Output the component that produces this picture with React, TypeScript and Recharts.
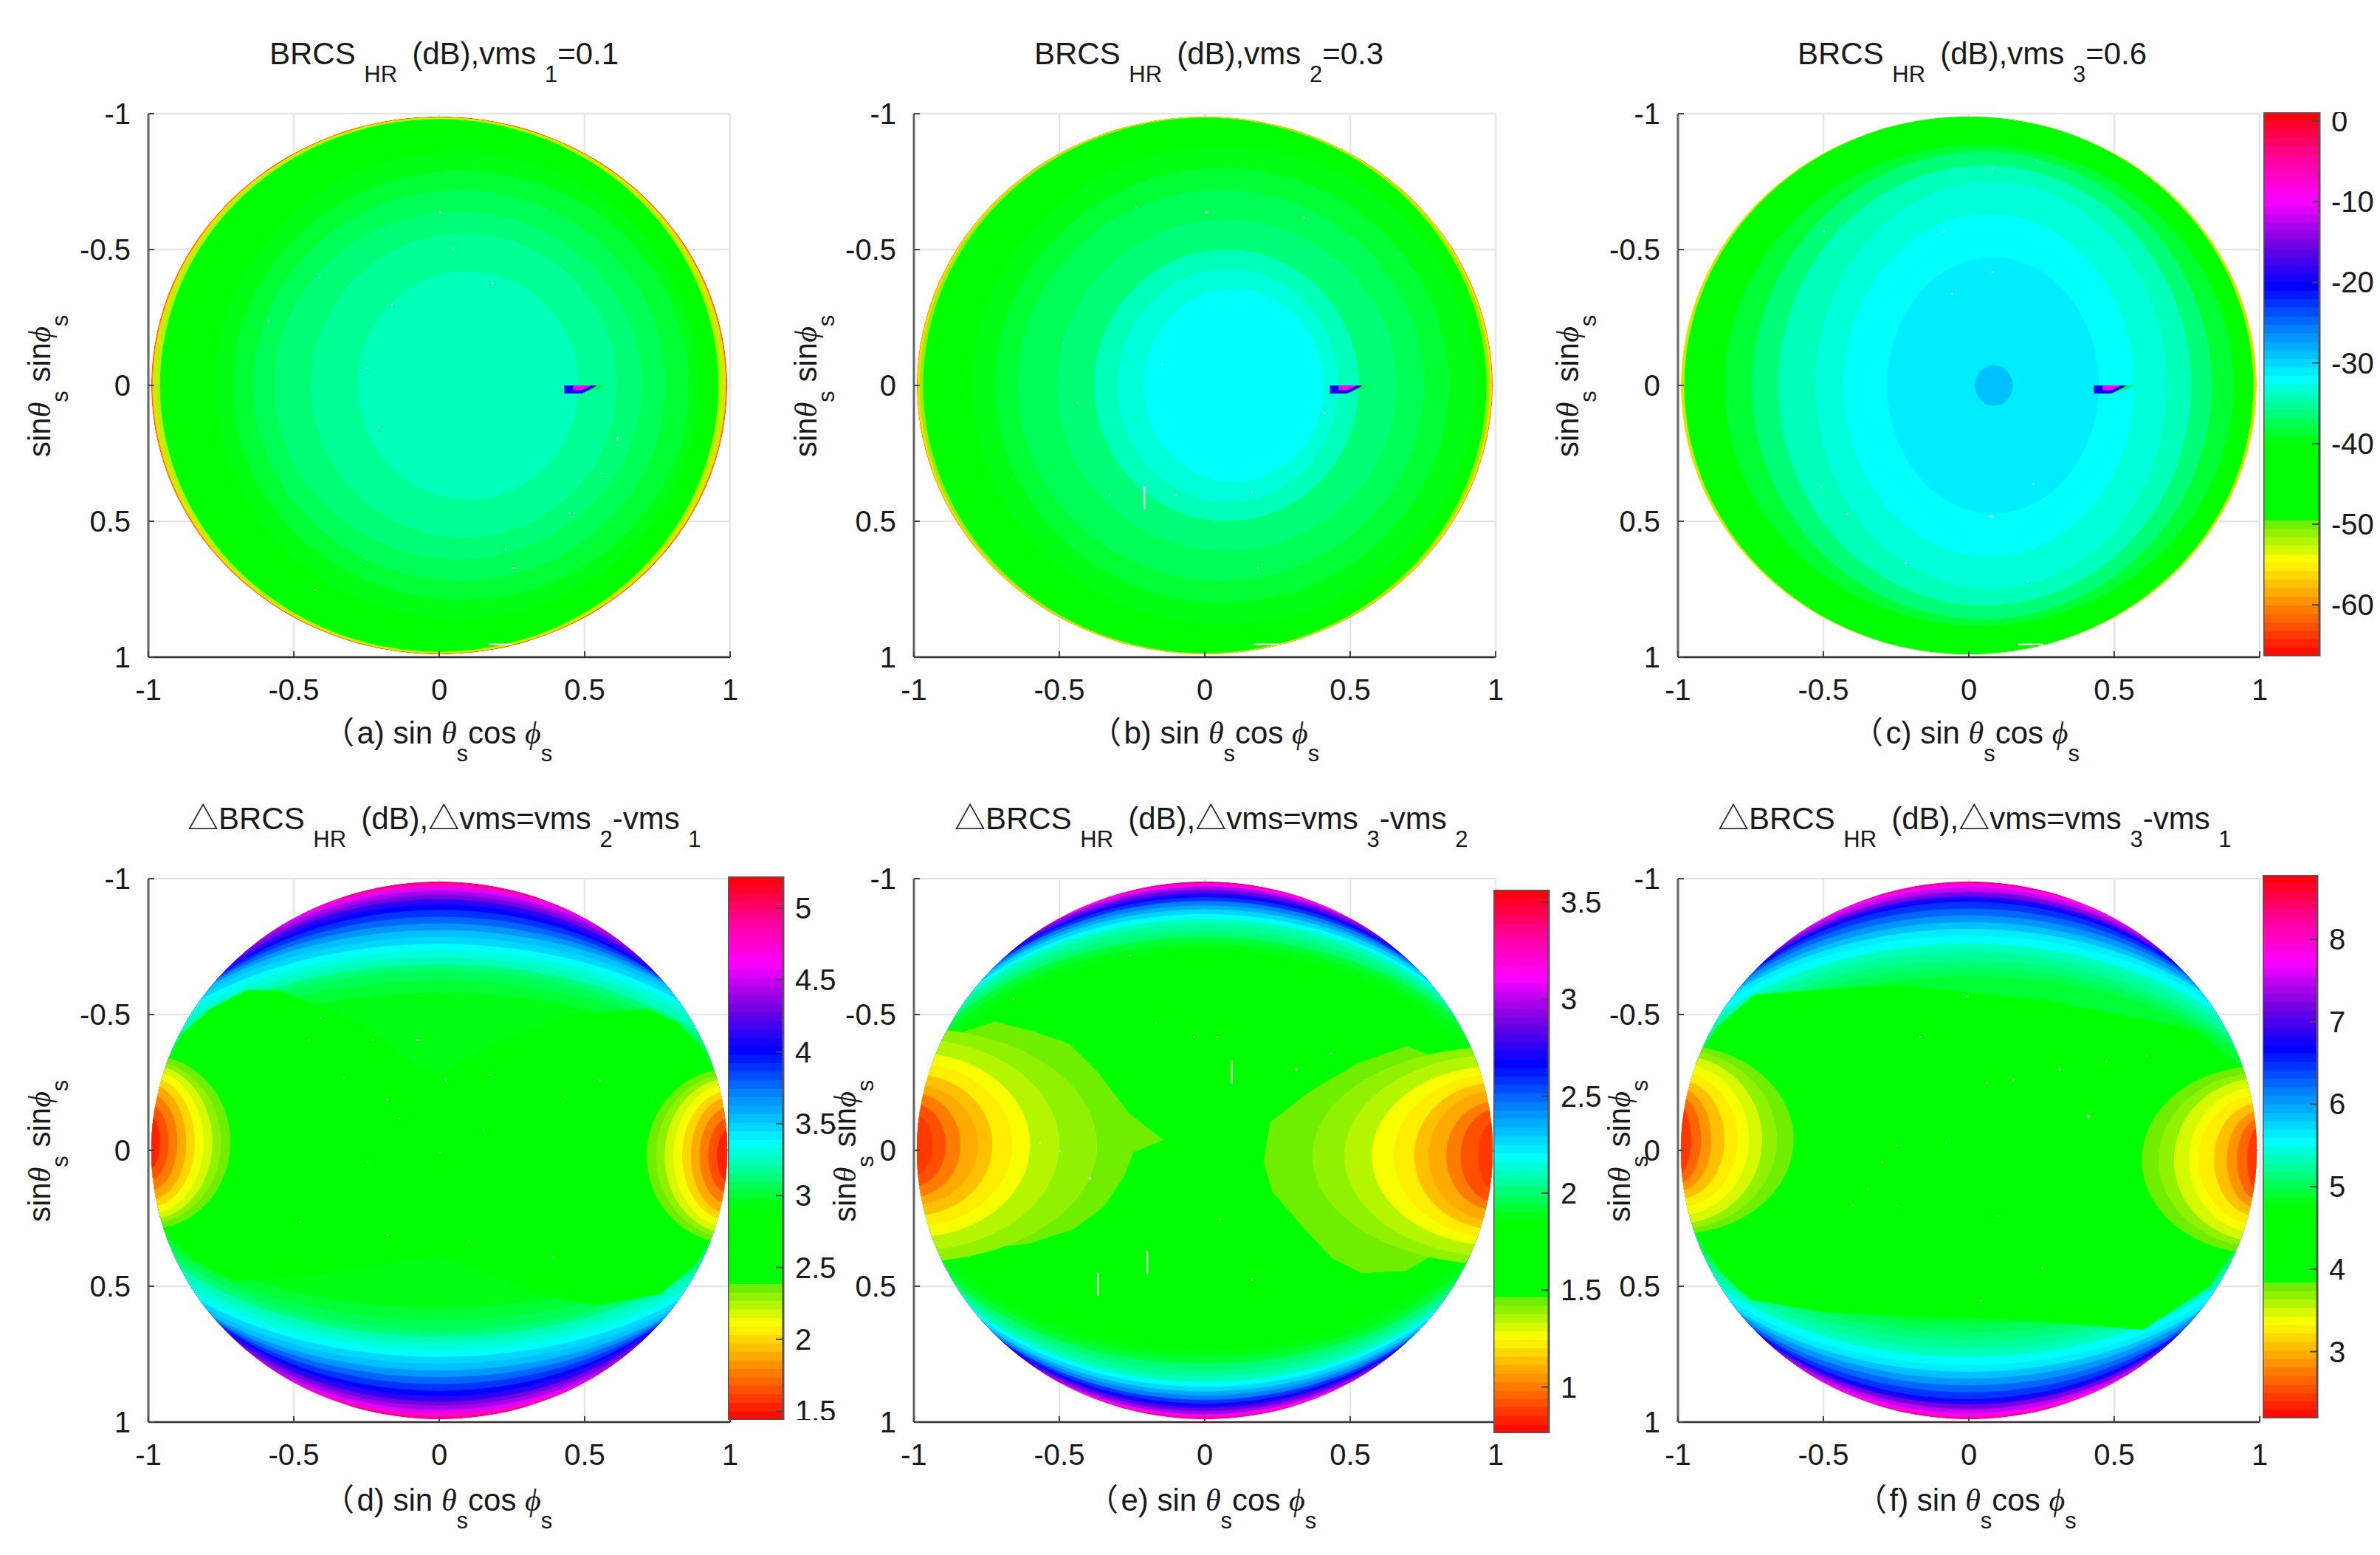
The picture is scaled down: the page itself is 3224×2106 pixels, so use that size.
import React from "react";
import {
  ScatterChart,
  Scatter,
  XAxis,
  YAxis,
  CartesianGrid,
  ReferenceArea
} from "recharts";

// ---- contour data: [x, y, rx, ry, level] painted back to front
type Ring = number[];
type Poly = { level: number; pts: number[][] };

const axisTicks = [-1, -0.5, 0, 0.5, 1];

const ringsA: Ring[] = [
  [0, 0, 0.99, 0.99, -64],
  [0, 0, 0.988, 0.988, -60],
  [0, 0, 0.985, 0.987, -56],
  [0, 0, 0.978, 0.985, -52],
  [0, 0, 0.96, 0.98, -45],
  [0.06, 0, 0.83, 0.86, -39.6],
  [0.075, 0, 0.785, 0.79, -38.4],
  [0.07, 0, 0.71, 0.72, -37.2],
  [0.065, 0, 0.633, 0.64, -36.2],
  [0.085, 0, 0.525, 0.56, -35.2],
  [0.1, 0, 0.38, 0.42, -34]
];
const ringsB: Ring[] = [
  [0, 0, 0.99, 0.99, -62],
  [0, 0, 0.988, 0.989, -56],
  [0, 0, 0.98, 0.987, -51],
  [0, 0, 0.968, 0.985, -45],
  [0.065, 0, 0.865, 0.88, -39.6],
  [0.06, 0, 0.78, 0.8, -38.5],
  [0.055, 0, 0.7, 0.72, -37.2],
  [0.075, 0, 0.585, 0.61, -36],
  [0.075, 0, 0.455, 0.5, -34.7],
  [0.08, 0, 0.38, 0.43, -33.3],
  [0.1, 0, 0.31, 0.355, -32]
];
const ringsC: Ring[] = [
  [0, 0, 0.99, 0.99, -56],
  [0, 0, 0.985, 0.99, -52],
  [0, 0, 0.978, 0.99, -45],
  [0.035, 0, 0.875, 0.885, -38.2],
  [0.045, 0, 0.79, 0.86, -36.3],
  [0.055, 0, 0.71, 0.81, -34.4],
  [0.077, 0, 0.605, 0.75, -33],
  [0.07, 0, 0.5, 0.63, -32],
  [0.083, 0, 0.364, 0.472, -30.6],
  [0.086, 0, 0.065, 0.075, -29]
];

// shared glint right of centre in the three upper panels
const wedgeTop: Poly[] = [
  { level: -44, pts: [[0.49, 0.03], [0.575, 0], [0.53, 0.005]] },
  { level: -20, pts: [[0.43, 0], [0.545, 0], [0.49, 0.03], [0.43, 0.03]] },
  { level: -10, pts: [[0.46, 0], [0.525, 0], [0.49, 0.018], [0.46, 0.018]] }
];

const bandsD: Ring[] = [
  [0, 0, 0.99, 0.99, 4.95],
  [0, 0, 1.05, 0.98, 4.75],
  [0, 0, 1.06, 0.968, 4.55],
  [0, 0, 1.07, 0.955, 4.42],
  [0, 0, 1.07, 0.94, 4.28],
  [0, 0, 1.07, 0.925, 4.14],
  [0, 0, 1.07, 0.905, 4.0],
  [0, 0, 1.1, 0.885, 3.9],
  [0, 0, 1.13, 0.86, 3.78],
  [0, 0, 1.16, 0.835, 3.66],
  [0, 0, 1.19, 0.81, 3.55],
  [0, 0, 1.2, 0.785, 3.45],
  [0, 0, 1.2, 0.76, 3.36],
  [0, 0, 1.2, 0.735, 3.29],
  [0, 0, 1.18, 0.71, 3.22],
  [0, 0, 1.15, 0.685, 3.15],
  [0, 0, 1.13, 0.66, 3.09],
  [0, 0, 1.13, 0.625, 3.03],
  [0, 0, 1.13, 0.58, 2.97],
  [0, 0, 1.13, 0.55, 2.93]
];
const greenD: Poly[] = [
  {
    level: 2.8,
    pts: [
      [-1.1, -0.22], [-0.95, -0.3], [-0.883, -0.43], [-0.79, -0.52], [-0.665, -0.59], [-0.55, -0.59],
      [-0.264, -0.465], [-0.086, -0.32], [0, -0.283], [0.18, -0.39], [0.45, -0.5], [0.717, -0.52],
      [0.82, -0.47], [0.9, -0.38], [0.95, -0.28], [1.1, -0.2],
      [1.1, 0.2], [0.95, 0.3], [0.88, 0.42], [0.76, 0.53], [0.54, 0.57], [0.36, 0.534], [0.18, 0.46], [0, 0.392],
      [-0.086, 0.397], [-0.264, 0.434], [-0.44, 0.46], [-0.71, 0.48], [-0.85, 0.4], [-0.94, 0.3], [-1.1, 0.2]
    ]
  }
];
const earsD: Ring[] = [
  [-1, -0.03, 0.282, 0.32, 2.37],
  [-1, -0.03, 0.25, 0.3, 2.29],
  [-1, -0.03, 0.22, 0.285, 2.2],
  [-1, -0.03, 0.19, 0.265, 2.1],
  [-1, -0.03, 0.16, 0.24, 2.01],
  [-1, -0.03, 0.13, 0.215, 1.89],
  [-1, -0.03, 0.1, 0.18, 1.76],
  [-1, -0.03, 0.07, 0.14, 1.63],
  [-1, -0.03, 0.04, 0.1, 1.52],
  [1, 0.02, 0.287, 0.32, 2.37],
  [1, 0.02, 0.255, 0.3, 2.29],
  [1, 0.02, 0.225, 0.285, 2.2],
  [1, 0.02, 0.195, 0.265, 2.1],
  [1, 0.02, 0.165, 0.24, 2.01],
  [1, 0.02, 0.135, 0.215, 1.89],
  [1, 0.02, 0.105, 0.18, 1.76],
  [1, 0.02, 0.075, 0.14, 1.63],
  [1, 0.02, 0.045, 0.1, 1.52]
];

const bandsE: Ring[] = [
  [0, 0, 0.99, 0.99, 3.35],
  [0, 0, 1.03, 0.983, 3.15],
  [0, 0, 1.04, 0.972, 2.98],
  [0, 0, 1.05, 0.96, 2.85],
  [0, 0, 1.06, 0.947, 2.7],
  [0, 0, 1.07, 0.932, 2.58],
  [0, 0, 1.08, 0.918, 2.47],
  [0, 0, 1.09, 0.902, 2.36],
  [0, 0, 1.1, 0.887, 2.26],
  [0, 0, 1.1, 0.87, 2.18],
  [0, 0, 1.1, 0.852, 2.11],
  [0, 0, 1.1, 0.832, 2.05],
  [0, 0, 1.1, 0.81, 1.99],
  [0, 0, 1.1, 0.785, 1.94],
  [0, 0, 1.08, 0.76, 1.9],
  [0, 0, 1.05, 0.735, 1.8]
];
const lobesE: Poly[] = [
  {
    level: 1.45,
    pts: [
      [-1.1, -0.1], [-0.969, -0.229], [-0.85, -0.428], [-0.722, -0.474], [-0.586, -0.437], [-0.466, -0.392],
      [-0.364, -0.283], [-0.262, -0.138], [-0.142, -0.038], [-0.245, 0.007], [-0.279, 0.098], [-0.347, 0.207],
      [-0.449, 0.289], [-0.603, 0.343], [-0.756, 0.361], [-0.876, 0.316], [-0.961, 0.225], [-1.1, 0.1]
    ]
  },
  {
    level: 1.45,
    pts: [
      [1.1, -0.1], [0.932, -0.229], [0.83, -0.328], [0.693, -0.383], [0.523, -0.319], [0.352, -0.21],
      [0.224, -0.102], [0.202, 0.044], [0.233, 0.152], [0.335, 0.279], [0.437, 0.397], [0.54, 0.452],
      [0.693, 0.443], [0.864, 0.334], [0.983, 0.152], [1.1, 0.1]
    ]
  }
];
const earsE: Ring[] = [
  [-1, -0.02, 0.63, 0.43, 1.39],
  [-1, -0.02, 0.5, 0.39, 1.34],
  [-1, -0.02, 0.4, 0.34, 1.28],
  [-1, -0.02, 0.338, 0.3, 1.22],
  [-1, -0.02, 0.27, 0.26, 1.15],
  [-1, -0.02, 0.22, 0.22, 1.08],
  [-1, -0.02, 0.16, 0.19, 1.01],
  [-1, -0.02, 0.11, 0.15, 0.93],
  [-1, -0.02, 0.065, 0.11, 0.85],
  [1, 0.02, 0.63, 0.4, 1.39],
  [1, 0.02, 0.52, 0.37, 1.34],
  [1, 0.02, 0.426, 0.33, 1.28],
  [1, 0.02, 0.35, 0.3, 1.22],
  [1, 0.02, 0.28, 0.27, 1.15],
  [1, 0.02, 0.23, 0.24, 1.08],
  [1, 0.02, 0.17, 0.2, 1.01],
  [1, 0.02, 0.12, 0.17, 0.93],
  [1, 0.02, 0.06, 0.13, 0.85]
];

const bandsF: Ring[] = [
  [0, 0, 0.99, 0.99, 8.3],
  [0, 0, 1.03, 0.982, 7.8],
  [0, 0, 1.04, 0.968, 7.45],
  [0, 0, 1.05, 0.952, 7.15],
  [0, 0, 1.06, 0.935, 6.8],
  [0, 0, 1.07, 0.915, 6.5],
  [0, 0, 1.1, 0.89, 6.25],
  [0, 0, 1.12, 0.865, 6.0],
  [0, 0, 1.13, 0.84, 5.8],
  [0, 0, 1.15, 0.815, 5.62],
  [0, 0, 1.15, 0.79, 5.5],
  [0, 0, 1.14, 0.76, 5.35],
  [0, 0, 1.13, 0.73, 5.22],
  [0, 0, 1.12, 0.7, 5.1],
  [0, 0, 1.12, 0.67, 4.98],
  [0, 0, 1.12, 0.64, 4.88]
];
const greenF: Poly[] = [
  {
    level: 4.6,
    pts: [
      [-1.1, -0.2], [-0.95, -0.3], [-0.87, -0.45], [-0.737, -0.574], [-0.268, -0.61], [0.252, -0.555], [0.774, -0.446],
      [0.913, -0.33], [1.1, -0.2],
      [1.1, 0.2], [0.95, 0.3], [0.83, 0.5], [0.6, 0.66], [0.166, 0.624], [-0.246, 0.608], [-0.5, 0.595], [-0.754, 0.549],
      [-0.855, 0.448], [-0.94, 0.3], [-1.1, 0.2]
    ]
  }
];
const earsF: Ring[] = [
  [-1, -0.04, 0.398, 0.347, 3.77],
  [-1, -0.04, 0.34, 0.33, 3.64],
  [-1, -0.04, 0.29, 0.31, 3.51],
  [-1, -0.04, 0.245, 0.28, 3.38],
  [-1, -0.04, 0.205, 0.25, 3.24],
  [-1, -0.04, 0.16, 0.22, 3.05],
  [-1, -0.04, 0.115, 0.19, 2.85],
  [-1, -0.04, 0.08, 0.16, 2.65],
  [-1, -0.04, 0.045, 0.13, 2.45],
  [1, 0.035, 0.405, 0.345, 3.77],
  [1, 0.035, 0.347, 0.32, 3.64],
  [1, 0.035, 0.295, 0.3, 3.51],
  [1, 0.035, 0.243, 0.27, 3.38],
  [1, 0.035, 0.21, 0.24, 3.24],
  [1, 0.035, 0.157, 0.21, 3.05],
  [1, 0.035, 0.113, 0.18, 2.85],
  [1, 0.035, 0.078, 0.15, 2.65],
  [1, 0.035, 0.043, 0.12, 2.45]
];

// missing cells: [x, y, w, h]
const holesA = [
  [0, -0.64, 0.008, 0.006], [0.045, -0.507, 0.005, 0.005], [0.18, -0.38, 0.005, 0.005], [-0.415, -0.4, 0.005, 0.005],
  [-0.165, -0.3, 0.005, 0.005], [-0.59, -0.24, 0.005, 0.005], [-0.25, -0.066, 0.005, 0.005], [-0.21, 0.15, 0.005, 0.005],
  [0.61, 0.19, 0.005, 0.012], [0.555, 0.32, 0.005, 0.005], [0.445, 0.467, 0.005, 0.005], [0.226, 0.6, 0.005, 0.005],
  [0.25, 0.67, 0.008, 0.005], [-0.25, 0.64, 0.005, 0.005], [-0.43, 0.75, 0.005, 0.005], [0.17, 0.95, 0.08, 0.006]
];
const holesB = [
  [-0.21, 0.37, 0.005, 0.085], [0, -0.64, 0.012, 0.005], [-0.24, -0.66, 0.005, 0.005], [0.34, -0.62, 0.005, 0.005],
  [-0.49, -0.16, 0.005, 0.005], [-0.15, -0.08, 0.005, 0.005], [-0.44, 0.06, 0.005, 0.005], [0.41, 0.1, 0.005, 0.005],
  [-0.1, 0.4, 0.005, 0.005], [0.16, 0.39, 0.005, 0.005], [-0.33, 0.4, 0.005, 0.005], [0.18, 0.67, 0.005, 0.005],
  [0.17, 0.95, 0.085, 0.006]
];
const holesC = [
  [0.08, -0.8, 0.005, 0.005], [0.23, -0.83, 0.005, 0.005], [-0.09, -0.57, 0.005, 0.005], [0.08, -0.42, 0.005, 0.005],
  [-0.06, -0.34, 0.005, 0.005], [-0.5, -0.57, 0.005, 0.005], [0.22, 0.36, 0.005, 0.005], [-0.51, 0.37, 0.005, 0.005],
  [-0.42, 0.47, 0.005, 0.005], [0.07, 0.48, 0.012, 0.005], [-0.22, 0.65, 0.005, 0.005], [0.2, 0.72, 0.005, 0.005],
  [0.17, 0.95, 0.085, 0.006]
];
const holesD = [
  [-0.41, -0.49, 0.005, 0.005], [-0.45, -0.41, 0.005, 0.005], [-0.23, -0.41, 0.005, 0.005], [-0.08, -0.41, 0.01, 0.005],
  [-0.33, -0.27, 0.005, 0.005], [0.02, -0.26, 0.005, 0.005], [0.55, -0.26, 0.005, 0.005], [0.17, -0.28, 0.005, 0.005],
  [-0.18, -0.19, 0.005, 0.005], [0.43, -0.2, 0.005, 0.005], [-0.14, -0.12, 0.005, 0.005], [0.15, -0.08, 0.005, 0.005],
  [-0.25, 0.04, 0.005, 0.005], [0, 0.005, 0.005, 0.005], [-0.48, 0.26, 0.005, 0.005], [-0.18, 0.31, 0.005, 0.005],
  [0.1, 0.33, 0.005, 0.005], [0.39, 0.39, 0.005, 0.005]
];
const holesE = [
  [0.09, -0.33, 0.005, 0.085], [-0.2, 0.37, 0.005, 0.085], [-0.37, 0.45, 0.005, 0.085], [-0.26, -0.72, 0.005, 0.005],
  [-0.66, -0.56, 0.005, 0.005], [-0.17, -0.47, 0.005, 0.005], [-0.04, -0.42, 0.005, 0.005], [0.04, -0.42, 0.005, 0.005],
  [0.31, -0.3, 0.008, 0.005], [0.43, -0.36, 0.005, 0.005], [-0.57, -0.03, 0.005, 0.005], [-0.5, 0, 0.005, 0.005],
  [-0.4, 0.1, 0.01, 0.005], [0.05, 0.25, 0.005, 0.005], [0.16, 0.47, 0.005, 0.01]
];
const holesF = [
  [-0.01, -0.57, 0.008, 0.005], [-0.17, -0.42, 0.005, 0.005], [0.47, -0.33, 0.005, 0.005], [0.61, -0.35, 0.005, 0.005],
  [0.06, -0.25, 0.005, 0.005], [0.15, -0.26, 0.005, 0.005], [0.31, -0.3, 0.005, 0.005], [0.41, -0.13, 0.005, 0.012],
  [-0.25, -0.02, 0.005, 0.005], [-0.08, -0.03, 0.005, 0.005], [-0.3, 0.04, 0.005, 0.005], [-0.35, 0.14, 0.005, 0.005],
  [-0.4, 0.2, 0.005, 0.005], [-0.25, 0.2, 0.005, 0.005], [0.1, 0.24, 0.005, 0.005], [0.25, 0.43, 0.005, 0.005], [0.04, 0.55, 0.005, 0.005]
];

// ---- colour bars
const barTicksTop = [0, -10, -20, -30, -40, -50, -60];
const barTicksD = [1.5, 2, 2.5, 3, 3.5, 4, 4.5, 5];
const barTicksE = [1, 1.5, 2, 2.5, 3, 3.5];
const barTicksF = [3, 4, 5, 6, 7, 8];

const rangeTop: [number, number] = [-66.4, 1.1];
const rangeD: [number, number] = [1.44, 5.22];
const rangeE: [number, number] = [0.762, 3.565];
const rangeF: [number, number] = [2.19, 8.78];

// colormap stops as seen on the bars: [position, r, g, b]
const colorStops = [
  [0, 255, 0, 0],
  [0.09, 255, 130, 0],
  [0.176, 255, 255, 0],
  [0.252, 90, 235, 0],
  [0.253, 0, 255, 0],
  [0.39, 0, 255, 0],
  [0.51, 0, 255, 255],
  [0.6, 0, 130, 255],
  [0.68, 0, 0, 255],
  [0.76, 120, 0, 225],
  [0.84, 255, 0, 255],
  [0.92, 255, 0, 150],
  [1, 255, 0, 0]
];
const LEVELS = 64;

function colorOf(value: number, range: [number, number]) {
  const raw = (value - range[0]) / (range[1] - range[0]);
  const t = (Math.min(LEVELS - 1, Math.max(0, Math.floor(raw * LEVELS))) + 0.5) / LEVELS;
  let i = 0;
  while (i < colorStops.length - 2 && colorStops[i + 1][0] < t) i++;
  const a = colorStops[i];
  const b = colorStops[i + 1];
  const f = Math.min(1, (t - a[0]) / (b[0] - a[0]));
  const mix = (k: number) => Math.round(a[k] + (b[k] - a[k]) * f);
  return `rgb(${mix(1)},${mix(2)},${mix(3)})`;
}

// ---- text
type Run = [string, ("sub" | "it")?];
const TEXT_FONT = "'Liberation Sans', 'Noto Sans CJK SC', Arial, sans-serif";

const sinLabel: Run[] = [["sin"], ["θ", "it"], ["s", "sub"], [" sin"], ["ϕ", "it"], ["s", "sub"]];
const capLabel = (c: string): Run[] => [[`（\u200a${c}) sin `], ["θ", "it"], ["s", "sub"], ["cos "], ["ϕ", "it"], ["s", "sub"]];
const titleTop = (n: string, v: string): Run[] => [["BRCS "], ["HR", "sub"], [" \u2009(dB),vms "], [n, "sub"], [`=${v}`]];
const titleDelta = (a: string, b: string): Run[] => [["△BRCS "], ["HR", "sub"], [" \u2009(dB),△vms=vms "], [a, "sub"], ["-vms "], [b, "sub"]];

function Rich({ x, y, runs, rotate }: { x: number; y: number; runs: Run[]; rotate?: boolean }) {
  let base = 0;
  return (
    <text
      x={x}
      y={y}
      transform={rotate ? `rotate(-90 ${x} ${y})` : undefined}
      fontFamily={TEXT_FONT}
      fontSize={42}
      fill="#1a1a1a"
      style={{ whiteSpace: "pre" }}
    >
      {runs.map(([t, kind], i) => {
        const target = kind === "sub" ? 24 : 0;
        const dy = target - base;
        base = target;
        if (kind === "sub") return <tspan key={i} dy={dy} fontSize={31}>{t}</tspan>;
        if (kind === "it") return <tspan key={i} dy={dy} fontFamily="'Liberation Serif', serif" fontStyle="italic">{t}</tspan>;
        return <tspan key={i} dy={dy}>{t}</tspan>;
      })}
    </text>
  );
}

// ---- layout
const PLOT_W = 788;
const PLOT_H = 736;
const M_LEFT = 200;
const M_TOP = 154;
const M_RIGHT = 30;
const M_BOTTOM = 180;
const DISK = 0.99;

function contourShape(id: string, range: [number, number]) {
  const ux = PLOT_W / 2;
  const uy = PLOT_H / 2;
  return (props: any) => {
    const { cx, cy, payload } = props;
    const fill = colorOf(payload.level, range);
    if (payload.pts) {
      const d = payload.pts
        .map((p: number[]) => `${cx + p[0] * ux},${cy + p[1] * uy}`)
        .join(" ");
      return <polygon points={d} fill={fill} clipPath={`url(#${id})`} />;
    }
    return <ellipse cx={cx} cy={cy} rx={payload.rx * ux} ry={payload.ry * uy} fill={fill} clipPath={`url(#${id})`} />;
  };
}

const holeShape = (props: any) => {
  const { cx, cy, payload } = props;
  return <rect x={cx} y={cy} width={Math.max(2, (payload.w * PLOT_W) / 2)} height={Math.max(2, (payload.h * PLOT_H) / 2)} fill="#fff" />;
};

const XTick = ({ x, payload }: any) => (
  <g>
    <line x1={x} x2={x} y1={M_TOP + PLOT_H} y2={M_TOP + PLOT_H - 8} stroke="#444" strokeWidth={2} />
    <text x={x} y={M_TOP + PLOT_H + 58} textAnchor="middle" fontFamily={TEXT_FONT} fontSize={40} fill="#1a1a1a">{payload.value}</text>
  </g>
);

const YTick = ({ y, payload }: any) => (
  <g>
    <line x1={M_LEFT} x2={M_LEFT + 8} y1={y} y2={y} stroke="#444" strokeWidth={2} />
    <text x={M_LEFT - 24} y={y + 14} textAnchor="end" fontFamily={TEXT_FONT} fontSize={40} fill="#1a1a1a">{payload.value}</text>
  </g>
);

type PanelProps = {
  px: number;
  py: number;
  id: string;
  range: [number, number];
  rings: Ring[];
  overlay?: Poly[];
  ears?: Ring[];
  holes: number[][];
  wedge?: boolean;
  title: Run[];
  titleX: number;
  titleY: number;
  caption: Run[];
  captionX: number;
  captionY: number;
  labelX: number;
  labelY: number;
};

const toRing = (r: Ring) => ({ x: r[0], y: r[1], rx: r[2], ry: r[3], level: r[4] });
// polygons carry their own vertices, anchored at the axes' origin
const toPoly = (p: Poly) => ({ x: 0, y: 0, level: p.level, pts: p.pts });

function Panel(p: PanelProps) {
  const ox = p.px - M_LEFT;
  const oy = p.py - M_TOP;
  const rows: any[] = [
    ...p.rings.map(toRing),
    ...(p.overlay ?? []).map(toPoly),
    ...(p.ears ?? []).map(toRing),
    ...(p.wedge ? wedgeTop.map(toPoly) : [])
  ];
  const holes = p.holes.map((h) => ({ x: h[0], y: h[1], w: h[2], h: h[3] }));
  return (
    <div style={{ position: "absolute", left: ox, top: oy }}>
      <ScatterChart
        width={M_LEFT + PLOT_W + M_RIGHT}
        height={M_TOP + PLOT_H + M_BOTTOM}
        margin={{ top: M_TOP, right: M_RIGHT, left: 0, bottom: 0 }}
      >
        <defs>
          <clipPath id={p.id}>
            <ellipse cx={M_LEFT + PLOT_W / 2} cy={M_TOP + PLOT_H / 2} rx={(DISK * PLOT_W) / 2} ry={(DISK * PLOT_H) / 2} />
          </clipPath>
        </defs>
        <CartesianGrid stroke="#e6e6e6" strokeWidth={2.5} />
        <XAxis
          type="number"
          dataKey="x"
          domain={[-1, 1]}
          ticks={axisTicks}
          interval={0}
          height={M_BOTTOM}
          stroke="#333"
          strokeWidth={2.5}
          tickLine={false}
          tick={XTick}
        />
        <YAxis
          type="number"
          dataKey="y"
          domain={[-1, 1]}
          reversed
          ticks={axisTicks}
          interval={0}
          width={M_LEFT}
          stroke="#666"
          strokeWidth={3}
          tickLine={false}
          tick={YTick}
        />
        <Scatter data={rows} shape={contourShape(p.id, p.range)} isAnimationActive={false} />
        <Scatter data={holes} shape={holeShape} isAnimationActive={false} />
        <Rich x={p.titleX - ox} y={p.titleY - oy} runs={p.title} />
        <Rich x={p.captionX - ox} y={p.captionY - oy} runs={p.caption} />
        <Rich x={p.labelX - ox} y={p.labelY - oy} runs={sinLabel} rotate />
      </ScatterChart>
    </div>
  );
}

function ColorBar({ left, top, width, height, range, ticks }: { left: number; top: number; width: number; height: number; range: [number, number]; ticks: number[] }) {
  const span = range[1] - range[0];
  const stripes = Array.from({ length: LEVELS }, (_, i) => i);
  const BarTick = ({ y, payload }: any) => (
    <g>
      <line x1={width - 10} x2={width} y1={y} y2={y} stroke="#444" strokeWidth={2} />
      <text x={width + 16} y={y + 14} fontFamily={TEXT_FONT} fontSize={40} fill="#1a1a1a">{payload.value}</text>
    </g>
  );
  return (
    <div style={{ position: "absolute", left, top }}>
      <ScatterChart width={width + 130} height={height} margin={{ top: 0, right: 0, bottom: 0, left: 0 }}>
        <XAxis type="number" dataKey="x" domain={[0, 1]} hide />
        <YAxis
          type="number"
          dataKey="y"
          orientation="right"
          domain={range}
          ticks={ticks}
          interval={0}
          width={130}
          axisLine={false}
          tickLine={false}
          tick={BarTick}
          allowDataOverflow
        />
        <Scatter data={ticks.map((t) => ({ x: 0.5, y: t }))} shape={() => null} isAnimationActive={false} />
        {stripes.map((i) => (
          <ReferenceArea
            key={i}
            y1={range[0] + (span * i) / LEVELS}
            y2={range[0] + (span * (i + 1)) / LEVELS + span / 400}
            x1={0}
            x2={1}
            fill={colorOf(range[0] + (span * (i + 0.5)) / LEVELS, range)}
            fillOpacity={1}
            stroke="none"
            ifOverflow="hidden"
          />
        ))}
        <ReferenceArea x1={0} x2={1} y1={range[0]} y2={range[1]} fill="none" stroke="#555" strokeWidth={3} />
      </ScatterChart>
    </div>
  );
}

export default function App() {
  return (
    <div style={{ position: "absolute", left: 0, top: 0, width: 3224, height: 2106, background: "#fff", overflow: "hidden" }}>
      <Panel px={201} py={154} id="diskA" range={rangeTop} rings={ringsA} holes={holesA} wedge
        title={titleTop("1", "0.1")} titleX={365} titleY={87}
        caption={capLabel("a")} captionX={438} captionY={1007} labelX={68} labelY={619} />
      <Panel px={1238} py={154} id="diskB" range={rangeTop} rings={ringsB} holes={holesB} wedge
        title={titleTop("2", "0.3")} titleX={1401} titleY={87}
        caption={capLabel("b")} captionX={1477} captionY={1007} labelX={1106} labelY={619} />
      <Panel px={2273} py={154} id="diskC" range={rangeTop} rings={ringsC} holes={holesC} wedge
        title={titleTop("3", "0.6")} titleX={2435} titleY={87}
        caption={capLabel("c")} captionX={2509} captionY={1007} labelX={2138} labelY={619} />
      <Panel px={201} py={1190} id="diskD" range={rangeD} rings={bandsD} overlay={greenD} ears={earsD} holes={holesD}
        title={titleDelta("2", "1")} titleX={254} titleY={1123}
        caption={capLabel("d")} captionX={438} captionY={2046} labelX={68} labelY={1655} />
      <Panel px={1238} py={1190} id="diskE" range={rangeE} rings={bandsE} overlay={lobesE} ears={earsE} holes={holesE}
        title={titleDelta("3", "2")} titleX={1293} titleY={1123}
        caption={capLabel("e")} captionX={1473} captionY={2046} labelX={1159} labelY={1655} />
      <Panel px={2273} py={1190} id="diskF" range={rangeF} rings={bandsF} overlay={greenF} ears={earsF} holes={holesF}
        title={titleDelta("3", "1")} titleX={2327} titleY={1123}
        caption={capLabel("f")} captionX={2514} captionY={2046} labelX={2208} labelY={1655} />
      <ColorBar left={3066} top={152} width={76} height={737} range={rangeTop} ticks={barTicksTop} />
      <ColorBar left={986} top={1187} width={75} height={736} range={rangeD} ticks={barTicksD} />
      <ColorBar left={2023} top={1205} width={75} height={736} range={rangeE} ticks={barTicksE} />
      <ColorBar left={3065} top={1185} width={74} height={736} range={rangeF} ticks={barTicksF} />
    </div>
  );
}
